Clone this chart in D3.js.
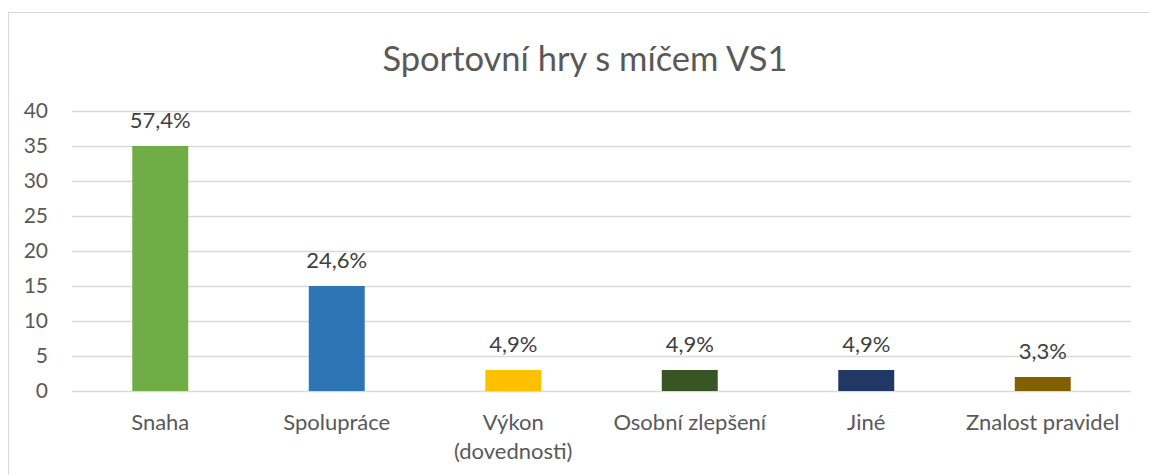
<!DOCTYPE html>
<html><head><meta charset="utf-8">
<script src="https://cdn.jsdelivr.net/npm/d3@7"></script>
<style>body{margin:0;background:#fff}svg{display:block}text{font-family:Lato,"Open Sans",sans-serif}</style>
</head><body>
<svg id="c" width="1149" height="475"></svg>
<script>
const categories = [["Snaha"],["Spolupráce"],["Výkon","(dovednosti)"],["Osobní zlepšení"],["Jiné"],["Znalost pravidel"]];
const values = [35, 15, 3, 3, 3, 2];
const labels = ["57,4%","24,6%","4,9%","4,9%","4,9%","3,3%"];
const colors = ["#70AD47","#2E75B6","#FFC000","#375623","#1F3864","#806000"];
const yTicks = [0,5,10,15,20,25,30,35,40];
const title = "Sportovní hry s míčem VS1";

(function(){
const svg = d3.select("#c");
svg.append("rect").attr("x",8.5).attr("y",12.5).attr("width",1160).attr("height",480)
  .attr("fill","#fff").attr("stroke","#d9d9d9").attr("stroke-width",1);

const pL=72, pR=1131, pT=111, pB=391;
const x = d3.scaleBand().domain(d3.range(categories.length)).range([pL,pR]).paddingInner(0.683).paddingOuter(0.3415);
const y = d3.scaleLinear().domain([0,40]).range([pB,pT]);

svg.append("text").attr("x",585).attr("y",71).attr("text-anchor","middle")
  .attr("font-size",34.5).attr("fill","#595959").text(title);

const yAxis = svg.append("g").attr("transform",`translate(${pL},0)`)
  .call(d3.axisLeft(y).tickValues(yTicks).tickSize(-(pR-pL)).tickPadding(24));
yAxis.select(".domain").remove();
yAxis.selectAll(".tick line").attr("stroke","#d9d9d9").attr("stroke-width",1.5);
yAxis.selectAll(".tick text").attr("font-size",21).attr("fill","#595959").attr("font-family","Lato");

const g = svg.append("g");
g.selectAll("rect.bar").data(values).join("rect").attr("class","bar")
  .attr("x",(d,i)=>x(i)).attr("width",x.bandwidth())
  .attr("y",d=>y(d)).attr("height",d=>y(0)-y(d))
  .attr("fill",(d,i)=>colors[i]);

g.selectAll("text.lab").data(values).join("text").attr("class","lab")
  .attr("x",(d,i)=>x(i)+x.bandwidth()/2).attr("y",d=>y(d)-18)
  .attr("text-anchor","middle").attr("font-size",22).attr("fill","#404040")
  .text((d,i)=>labels[i]);

const xl = g.selectAll("text.cat").data(categories).join("text").attr("class","cat")
  .attr("x",(d,i)=>x(i)+x.bandwidth()/2).attr("y",430)
  .attr("text-anchor","middle").attr("font-size",22).attr("fill","#595959");
xl.each(function(d,i){
  const t=d3.select(this);
  d.forEach((line,k)=>t.append("tspan").attr("x",x(i)+x.bandwidth()/2).attr("dy",k===0?0:29).text(line));
});
})();
</script>
</body></html>
